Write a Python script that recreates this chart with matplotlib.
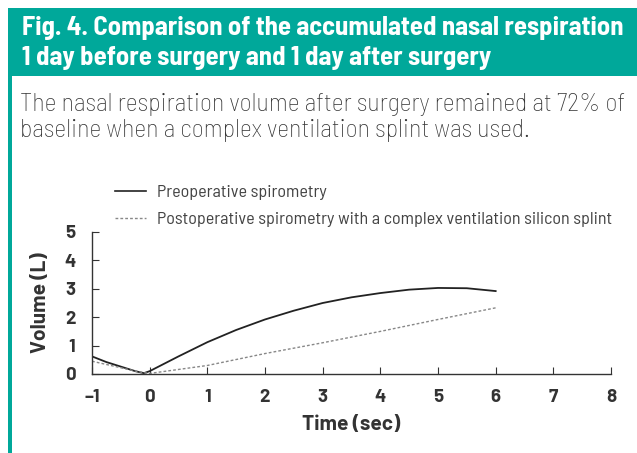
import matplotlib.pyplot as plt
from matplotlib.patches import Rectangle
from matplotlib.lines import Line2D
from matplotlib import font_manager

# Datos
pre_t = [-1, -0.75, -0.5, -0.25, -0.1, 0, 0.5, 1, 1.5, 2, 2.5, 3, 3.5, 4, 4.5, 5, 5.5, 6]
pre_v = [0.62, 0.42, 0.26, 0.1, 0.03, 0.1, 0.62, 1.12, 1.55, 1.92, 2.23, 2.5, 2.7, 2.85, 2.97, 3.03, 3.02, 2.92]
post_t = [-1, -0.5, -0.2, 0, 1, 2, 3, 4, 5, 6]
post_v = [0.45, 0.22, 0.08, 0.02, 0.3, 0.72, 1.1, 1.5, 1.92, 2.33]
xticks = list(range(-1, 9))
yticks = list(range(0, 6))

teal = '#00a89a'
names = {f.name for f in font_manager.fontManager.ttflist}
def pick(*fams):
    for f in fams:
        if f in names:
            return f
    return 'DejaVu Sans'
cond = pick('Barlow Semi Condensed', 'Asap Condensed', 'Liberation Sans Narrow')
wide = pick('Barlow', 'Asap', 'Open Sans')

W, H = 637, 453
fig = plt.figure(figsize=(W / 100, H / 100), dpi=100)
renderer = fig.canvas.get_renderer()

def fit_text(x0, x1, y, s, size, **kw):
    # escala la fuente para que el texto ocupe de x0 a x1 (texto justificado)
    t = fig.text(x0 / W, 1 - y / H, s, fontsize=size, va='center', **kw)
    w = t.get_window_extent(renderer).width
    t.set_fontsize(size * (x1 - x0) / w)
    return t

# banner y barra lateral
fig.patches.append(Rectangle((8 / W, 1 - 76 / H), 1 - 8 / W, 68 / H, transform=fig.transFigure,
                             facecolor=teal, edgecolor='none'))
fig.patches.append(Rectangle((8 / W, 0), 4 / W, 1 - 76 / H, transform=fig.transFigure,
                             facecolor=teal, edgecolor='none'))

fit_text(22, 622, 28, 'Fig. 4. Comparison of the accumulated nasal respiration', 16,
         color='white', fontweight='bold', family=cond)
fig.text(22 / W, 1 - 58 / H, '1 day before surgery and 1 day after surgery',
         color='white', fontweight='bold', family=cond, va='center',
         fontsize=fig.texts[0].get_fontsize())
t1 = fit_text(20, 625, 105, 'The nasal respiration volume after surgery remained at 72% of', 14,
              color='#333333', fontweight='light', family=cond)
fig.text(20 / W, 1 - 131 / H, 'baseline when a complex ventilation splint was used.',
         color='#333333', fontweight='light', family=cond, va='center', fontsize=t1.get_fontsize())

ax = fig.add_axes([92 / W, (H - 374) / H, (611 - 92) / W, (374 - 232) / H])
ax.plot(pre_t, pre_v, color='#222222', lw=1.3)
ax.plot(post_t, post_v, color='#888888', lw=1.0, ls=(0, (2, 1.5)))
ax.set_xlim(-1, 8)
ax.set_ylim(0, 5)
ax.set_xticks(xticks)
ax.set_yticks(yticks)
ax.set_xticklabels(['\u2013' + str(-t) if t < 0 else str(t) for t in xticks])
ax.spines['top'].set_visible(False)
ax.spines['right'].set_visible(False)
for s in ['left', 'bottom']:
    ax.spines[s].set_color('#333333')
    ax.spines[s].set_linewidth(1.0)
ax.tick_params(direction='in', length=5, color='#333333', labelsize=13.5, labelcolor='#333333')
for lab in ax.get_xticklabels() + ax.get_yticklabels():
    lab.set_fontweight('bold')
    lab.set_family(wide)
ax.tick_params(axis='x', pad=11)
ax.tick_params(axis='y', pad=12)
ax.set_xlabel('Time (sec)', fontsize=15, fontweight='bold', color='#333333', labelpad=6, family=wide)
ax.set_ylabel('Volume (L)', fontsize=15, fontweight='bold', color='#333333', labelpad=10, family=wide)

handles = [Line2D([], [], color='#222222', lw=1.2),
           Line2D([], [], color='#888888', lw=1.0, ls=(0, (2, 1.5)))]
leg = fig.legend(handles, ['Preoperative spirometry',
                           'Postoperative spirometry with a complex ventilation silicon splint'],
                 loc='center left', bbox_to_anchor=(115 / W, 1 - 206 / H), frameon=False,
                 prop={'family': cond, 'size': 13}, handlelength=1.7,
                 labelspacing=0.62, handletextpad=0.6, borderpad=0, borderaxespad=0)
for t in leg.get_texts():
    t.set_color('#444444')

fig.savefig('out.png', dpi=100)
